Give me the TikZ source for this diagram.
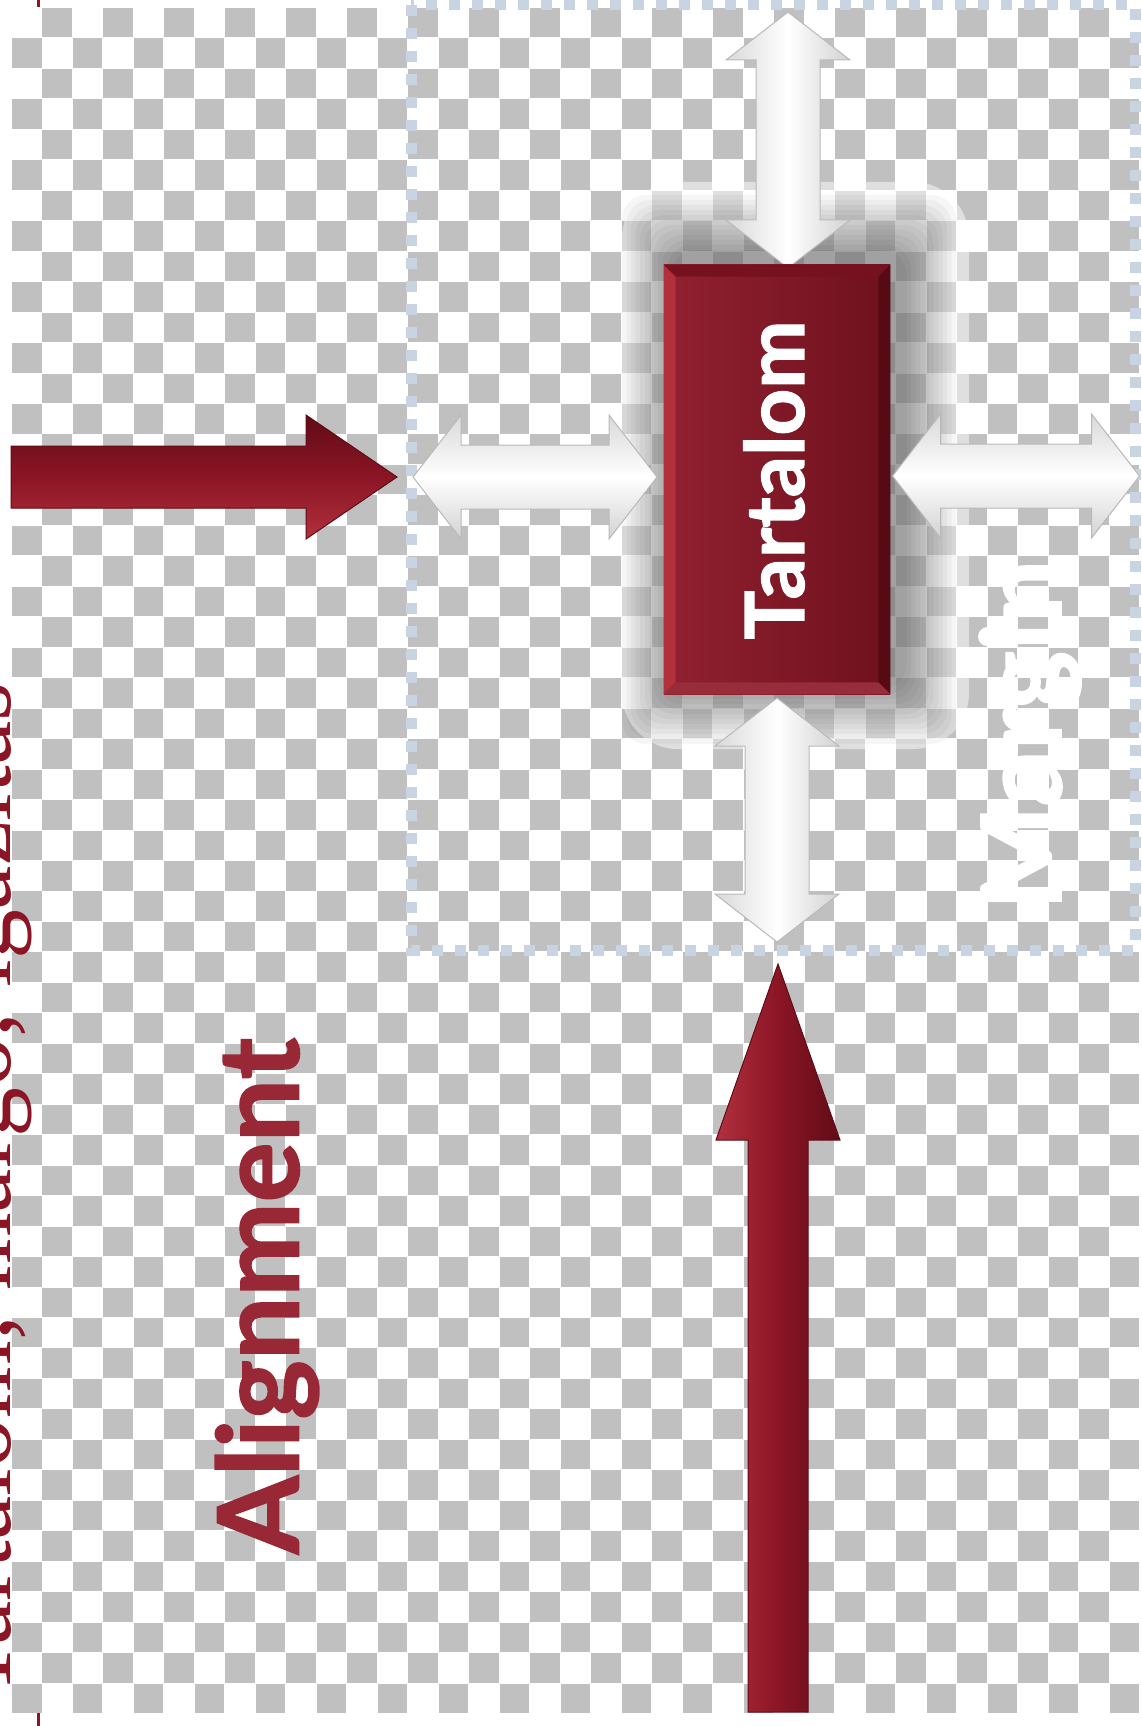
\documentclass[tikz,border=0pt]{standalone}
\usepackage{fontspec}
\newfontfamily\latofont[BoldFeatures={FakeBold=1.4}]{Lato}
\newfontfamily\headfont{Liberation Serif}
\definecolor{mred}{RGB}{139,21,37}
\definecolor{mreddark}{RGB}{96,12,22}
\definecolor{mredlight}{RGB}{178,48,62}
\definecolor{mchk}{RGB}{192,192,192}
\definecolor{mdash}{RGB}{200,212,226}
\definecolor{mtext}{RGB}{152,40,54}
\usetikzlibrary{calc,shadows,positioning}
\tikzset{
  chk/.style={fill=mchk},
  margbox/.style={draw=mdash,line width=2.75mm,dash pattern=on 2.75mm off 3mm},
  dblarrow/.pic={
    \path[pic actions] (-#1/2,0) -- ++(48,-62) -- ++(0,30) -- (#1/2-48,-32) -- ++(0,-30)
      -- (#1/2,0) -- ++(-48,62) -- ++(0,-30) -- (-#1/2+48,32) -- ++(0,30) -- cycle;
  },
  wharr/.style={draw=gray!55,line width=0.25mm,
    drop shadow={opacity=0.3,shadow xshift=1mm,shadow yshift=0.8mm}},
  redarr/.style={draw=mreddark,line width=0.25mm},
}

\begin{document}
\begin{tikzpicture}[
  x=0.25mm,y=-0.25mm,
  tbox/.style={rectangle,minimum width=56.5mm,minimum height=107.25mm,inner sep=0pt,
    left color=mred!95!white,right color=mred!80!black},
  lbl/.style={inner sep=0pt,rotate=90,font=\latofont\bfseries#1},
]
  \useasboundingbox (0,0) rectangle (1142,1726);
  \fill[white] (0,0) rectangle (1142,1726);

  % checkerboard
  \draw[mred,line width=0.75mm] (38,0) -- (38,1726);
  \fill[white] (11,7) rectangle (1139,1713);
  \foreach \i in {0,...,36}{
    \foreach \j in {0,...,55}{
      \ifodd\numexpr\i+\j\relax
        \fill[chk] (12+\i*30.486,8+\j*30.464) rectangle ++(29.5,29.5);
      \fi
    }
  }

  \node[rotate=90,anchor=base west,inner sep=0pt,text=mred,
    font=\headfont\fontsize{71}{71}\selectfont] (title) at (10,1700)
    {Tartalom, margó, igazítás};

  \draw[margbox] (411,5) rectangle (1135,950);

  % glow round the content box
  \coordinate (boxc) at (777,479.5);
  \fill[white,opacity=0.5,rounded corners=14mm] (622,182) rectangle (969,749);
  \foreach \g in {1,...,12}
    \fill[black,opacity=0.035,rounded corners=6mm]
      ($(boxc)+(-113-\g*4.5+12,-214.5-\g*5-10)$) rectangle
      ($(boxc)+(113+\g*4.5+12,214.5+\g*5-10)$);

  % margin arrows
  \pic[wharr,rotate=90,left color=gray!30,right color=gray!35,middle color=white] (mtop) at (788,140) {dblarrow=256};
  \pic[wharr,top color=gray!30,bottom color=gray!35,middle color=white] (mleft) at (535,477) {dblarrow=244};
  \pic[wharr,top color=gray!30,bottom color=gray!35,middle color=white] (mright) at (1016,476) {dblarrow=247};
  \pic[wharr,rotate=90,left color=gray!30,right color=gray!35,middle color=white] (mbot) at (777,820) {dblarrow=244};

  % alignment arrows
  \coordinate (aL0) at (11,477);
  \coordinate (aL1) at (397,477);
  \path[redarr,top color=mreddark,bottom color=mredlight,middle color=mred]
    (aL0) -- ++(0,-31) -- ($(aL1)+(-91,-31)$) -- ++(0,-31) -- (aL1)
    -- ++(-91,62) -- ++(0,-31) -- ($(aL0)+(0,31)$) -- cycle;
  \coordinate (aB0) at (778,1712);
  \coordinate (aB1) at (778,964);
  \path[redarr,left color=mredlight,right color=mreddark,middle color=mred]
    (aB0) -- ++(-30,0) -- ($(aB1)+(-30,176)$) -- ++(-32,0) -- (aB1)
    -- ++(62,176) -- ++(-32,0) -- ($(aB0)+(30,0)$) -- cycle;

  % content box with bevel
  \node[tbox] (box) at (boxc) {};
  \fill[mredlight] (box.north west) -- (box.south west) -- ($(box.south west)+(12,-12)$)
    -- ($(box.north west)+(12,12)$) -- cycle;
  \fill[mred!85!black] (box.north west) -- (box.north east) -- ($(box.north east)+(-12,12)$)
    -- ($(box.north west)+(12,12)$) -- cycle;
  \fill[mreddark!90!black] (box.north east) -- (box.south east) -- ($(box.south east)+(-12,-12)$)
    -- ($(box.north east)+(-12,12)$) -- cycle;
  \fill[mred!90!white] (box.south west) -- (box.south east) -- ($(box.south east)+(-12,-12)$)
    -- ($(box.south west)+(12,-12)$) -- cycle;

  \node[lbl=\fontsize{58}{60}\selectfont,text=white] (content) at (774,480) {Tartalom};
  \node[lbl=\fontsize{80}{80}\selectfont,text=mtext] (align) at (267,1296) {Alignment};
  \node[lbl=\fontsize{79}{79}\selectfont,text=white] (margin) at (1030,735) {Margin};
\end{tikzpicture}
\end{document}
